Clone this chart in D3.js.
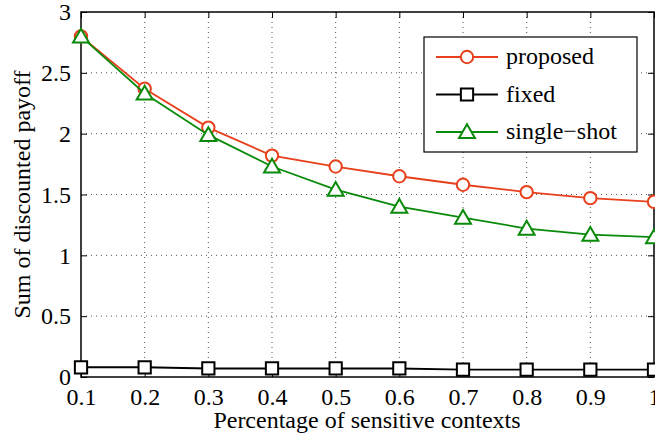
<!DOCTYPE html>
<html>
<head>
<script src="https://d3js.org/d3.v7.min.js"></script>
<style>
  body { margin: 0; background: #fff; }
  svg text { font-family: "Times New Roman", "Liberation Serif", Times, serif !important; fill: #000; }
  .grid line { stroke: #555; stroke-dasharray: 1,4; stroke-width: 1; }
</style>
</head>
<body>
<svg width="655" height="436"></svg>
<script>
var xValues = [0.1, 0.2, 0.3, 0.4, 0.5, 0.6, 0.7, 0.8, 0.9, 1.0];
var proposed = [2.80, 2.37, 2.05, 1.82, 1.73, 1.65, 1.58, 1.52, 1.47, 1.44];
var fixed = [0.08, 0.08, 0.07, 0.07, 0.07, 0.07, 0.06, 0.06, 0.06, 0.06];
var singleShot = [2.80, 2.33, 1.99, 1.73, 1.54, 1.40, 1.31, 1.22, 1.17, 1.15];
var xTicks = [0.1, 0.2, 0.3, 0.4, 0.5, 0.6, 0.7, 0.8, 0.9, 1];
var yTicks = [0, 0.5, 1, 1.5, 2, 2.5, 3];

var svg = d3.select("svg");
var pLeft = 81, pRight = 654, pTop = 12, pBottom = 377;

var x = d3.scaleLinear().domain([0.1, 1]).range([pLeft, pRight]);
var y = d3.scaleLinear().domain([0, 3]).range([pBottom, pTop]);

// grid
var grid = svg.append("g").attr("class", "grid");
grid.selectAll(".gx").data(xTicks.slice(1, -1)).enter().append("line")
    .attr("x1", d => x(d)).attr("x2", d => x(d)).attr("y1", pTop).attr("y2", pBottom);
grid.selectAll(".gy").data(yTicks.slice(1, -1)).enter().append("line")
    .attr("y1", d => y(d)).attr("y2", d => y(d)).attr("x1", pLeft).attr("x2", pRight);

// axes (ticks inward, mirrored)
var fmt = d3.format("");
svg.append("g").attr("transform", "translate(0," + pBottom + ")")
    .call(d3.axisBottom(x).tickValues(xTicks).tickSize(-6).tickPadding(11).tickFormat(fmt))
    .call(g => g.select(".domain").remove());
svg.append("g").attr("transform", "translate(0," + pTop + ")")
    .call(d3.axisTop(x).tickValues(xTicks).tickSize(-6).tickFormat(""))
    .call(g => g.select(".domain").remove());
svg.append("g").attr("transform", "translate(" + pLeft + ",0)")
    .call(d3.axisLeft(y).tickValues(yTicks).tickSize(-6).tickPadding(10).tickFormat(fmt))
    .call(g => g.select(".domain").remove());
svg.append("g").attr("transform", "translate(" + pRight + ",0)")
    .call(d3.axisRight(y).tickValues(yTicks).tickSize(-6).tickFormat(""))
    .call(g => g.select(".domain").remove());
svg.selectAll(".tick text").style("font-size", "24px");
svg.selectAll(".tick line").attr("stroke", "#000");

svg.append("rect").attr("x", pLeft).attr("y", pTop)
    .attr("width", pRight - pLeft).attr("height", pBottom - pTop)
    .attr("fill", "none").attr("stroke", "#000").attr("stroke-width", 1.5);

// series
var series = [
  { name: "proposed", values: proposed, color: "#e8401c", marker: "circle" },
  { name: "fixed", values: fixed, color: "#000000", marker: "square" },
  { name: "single\u2212shot", values: singleShot, color: "#0a8a0a", marker: "triangle" }
];

var line = d3.line().x((d, i) => x(xValues[i])).y(d => y(d));
var symbols = { circle: d3.symbolCircle, square: d3.symbolSquare, triangle: d3.symbolTriangle };
var sizes = { circle: 120, square: 150, triangle: 110 };

function drawMarker(g, s, cx, cy) {
  g.append("path")
    .attr("d", d3.symbol().type(symbols[s.marker]).size(sizes[s.marker])())
    .attr("transform", "translate(" + cx + "," + (cy + (s.marker === "triangle" ? 1.5 : 0)) + ")")
    .attr("fill", "#fff").attr("stroke", s.color).attr("stroke-width", 2);
}

series.forEach(function(s) {
  svg.append("path").datum(s.values).attr("d", line)
    .attr("fill", "none").attr("stroke", s.color).attr("stroke-width", 1.8);
  var g = svg.append("g");
  s.values.forEach(function(v, i) { drawMarker(g, s, x(xValues[i]), y(v)); });
});

// legend
var lg = svg.append("g");
lg.append("rect").attr("x", 424).attr("y", 37).attr("width", 213).attr("height", 115)
  .attr("fill", "#fff").attr("stroke", "#000").attr("stroke-width", 1.2);
series.forEach(function(s, i) {
  var ly = 57 + i * 37.5;
  lg.append("line").attr("x1", 436).attr("x2", 498).attr("y1", ly).attr("y2", ly)
    .attr("stroke", s.color).attr("stroke-width", 1.8);
  drawMarker(lg, s, 467, ly);
  lg.append("text").attr("x", 506).attr("y", ly + 7).style("font-size", "24px").text(s.name);
});

// axis labels
svg.append("text").attr("x", 367).attr("y", 428)
  .attr("text-anchor", "middle").style("font-size", "24px")
  .text("Percentage of sensitive contexts");
svg.append("text").attr("transform", "translate(30," + ((pTop + pBottom) / 2) + ") rotate(-90)")
  .attr("text-anchor", "middle").style("font-size", "24px")
  .text("Sum of discounted payoff");
</script>
</body>
</html>
